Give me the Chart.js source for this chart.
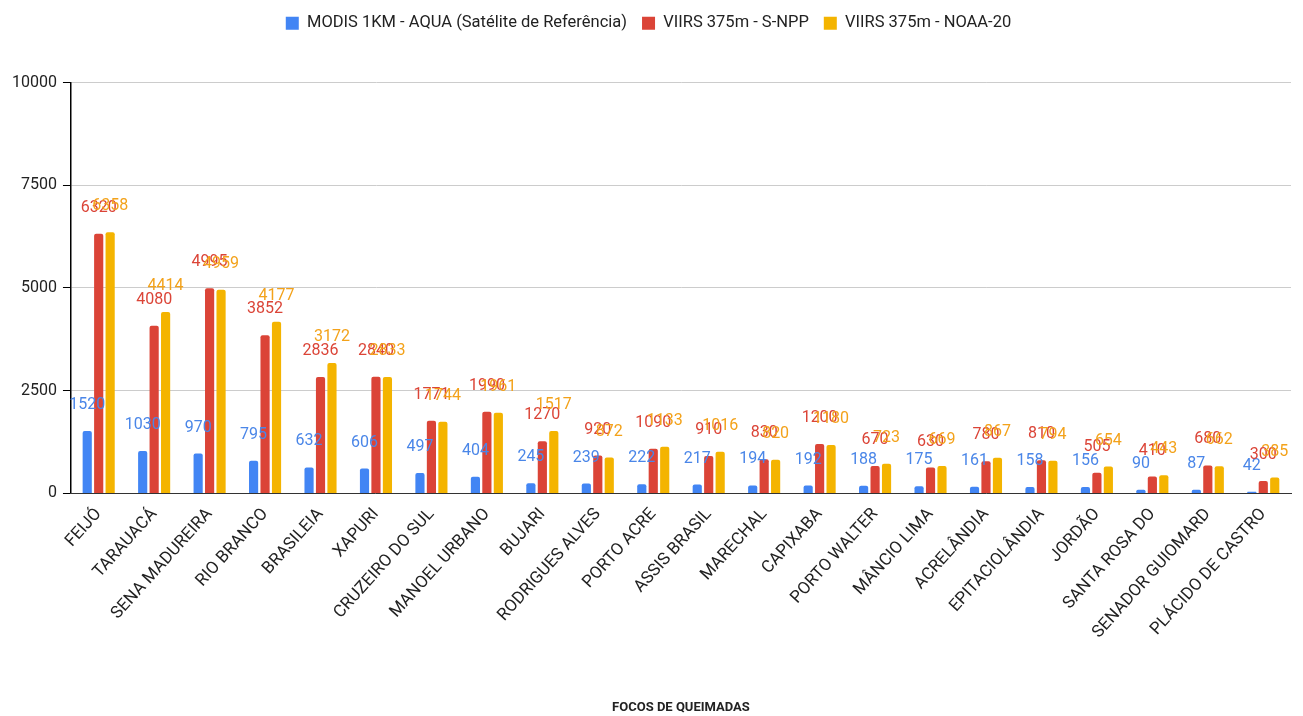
<!DOCTYPE html>
<html>
<head>
<meta charset="utf-8">
<script src="https://cdn.jsdelivr.net/npm/chart.js@4"></script>
<style>
  html, body { margin: 0; padding: 0; background: #fff; }
  #wrap { width: 1303px; height: 716px; position: relative; }
</style>
</head>
<body>
<div id="wrap"><canvas id="chart"></canvas></div>
<script>
const cities = ['FEIJÓ', 'TARAUACÁ', 'SENA MADUREIRA', 'RIO BRANCO', 'BRASILEIA', 'XAPURI',
  'CRUZEIRO DO SUL', 'MANOEL URBANO', 'BUJARI', 'RODRIGUES ALVES', 'PORTO ACRE', 'ASSIS BRASIL',
  'MARECHAL', 'CAPIXABA', 'PORTO WALTER', 'MÂNCIO LIMA', 'ACRELÂNDIA', 'EPITACIOLÂNDIA',
  'JORDÃO', 'SANTA ROSA DO', 'SENADOR GUIOMARD', 'PLÁCIDO DE CASTRO'];
const modis = [1520, 1030, 970, 795, 632, 606, 497, 404, 245, 239, 222, 217, 194, 192, 188, 175, 161, 158, 156, 90, 87, 42];
const snpp  = [6320, 4080, 4995, 3852, 2836, 2840, 1771, 1990, 1270, 920, 1090, 910, 830, 1200, 670, 630, 780, 810, 505, 410, 680, 300];
const noaa  = [6358, 4414, 4959, 4177, 3172, 2833, 1744, 1961, 1517, 872, 1133, 1016, 820, 1180, 723, 669, 867, 794, 654, 443, 662, 385];
const yTicks = [0, 2500, 5000, 7500, 10000];

const FONT = 'Roboto, "Noto Sans", sans-serif';

// value labels above each bar
const barLabels = {
  id: 'barLabels',
  afterDatasetsDraw(c) {
    const ctx = c.ctx;
    ctx.save();
    ctx.font = '16px ' + FONT;
    ctx.textAlign = 'center';
    ctx.textBaseline = 'bottom';
    c.data.datasets.forEach((ds, i) => {
      const meta = c.getDatasetMeta(i);
      meta.data.forEach((el, j) => {
        ctx.fillStyle = ds.labelColor;
        ctx.fillText(String(ds.data[j]), el.x, el.y - 18);
      });
    });
    ctx.restore();
  }
};

// extra room under the legend
const legendGap = {
  id: 'legendGap',
  beforeInit(c) {
    const fit = c.legend.fit;
    c.legend.fit = function () { fit.bind(c.legend)(); this.height += 41; };
  }
};

new Chart(document.getElementById('chart'), {
  type: 'bar',
  data: {
    labels: cities,
    datasets: [
      { label: 'MODIS 1KM - AQUA (Satélite de Referência)', data: modis, backgroundColor: '#4285F4', labelColor: '#4a86e8' },
      { label: 'VIIRS 375m - S-NPP', data: snpp, backgroundColor: '#DB4437', labelColor: '#db4437' },
      { label: 'VIIRS 375m - NOAA-20', data: noaa, backgroundColor: '#F4B400', labelColor: '#f3a21a' }
    ]
  },
  options: {
    responsive: true,
    maintainAspectRatio: false,
    animation: false,
    layout: { padding: { top: 0, right: 12, left: 6, bottom: 0 } },
    datasets: { bar: { categoryPercentage: 0.62, barPercentage: 0.8, borderRadius: 2 } },
    plugins: {
      legend: {
        position: 'top',
        labels: { boxWidth: 13, boxHeight: 13, padding: 15, color: '#222', font: { family: FONT, size: 16.5 } }
      },
      tooltip: { enabled: false }
    },
    scales: {
      y: {
        min: 0, max: 10000,
        afterBuildTicks: (ax) => { ax.ticks = yTicks.map(v => ({ value: v })); },
        ticks: { color: '#222', font: { family: FONT, size: 16 }, padding: 6, callback: (v) => String(v) },
        grid: { color: '#cccccc', tickColor: '#000', tickLength: 8 },
        border: { color: '#000', width: 1.5 }
      },
      x: {
        ticks: { color: '#222', font: { family: FONT, size: 17 }, maxRotation: 48, minRotation: 48, autoSkip: false },
        grid: { display: false },
        border: { color: '#333' },
        title: { display: true, text: 'FOCOS DE QUEIMADAS', color: '#222', font: { family: FONT, size: 13, weight: 'bold' }, padding: { top: 55, bottom: 0 } }
      }
    }
  },
  plugins: [barLabels, legendGap]
});
</script>
</body>
</html>
